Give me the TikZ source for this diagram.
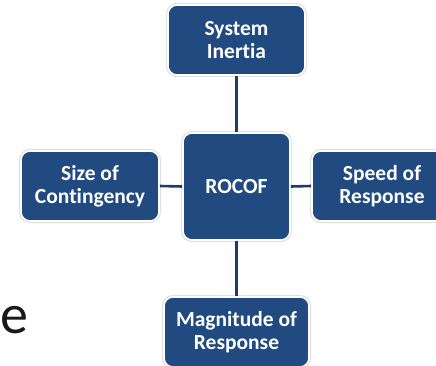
\documentclass[tikz,border=0pt]{standalone}
\usepackage{fontspec}
\setmainfont{Carlito}[Ligatures={NoCommon}]
\definecolor{boxblue}{RGB}{33,75,128}
\definecolor{linkblue}{RGB}{30,60,105}
\tikzset{
  factor/.style={
    preaction={draw=black!12, line width=4pt},
    fill=boxblue, draw=white, line width=1.6pt,
    rounded corners=9pt, text=white,
    font=\bfseries\fontsize{21.5}{23}\selectfont,
    align=center, inner sep=0pt},
  link/.style={draw=linkblue, line width=2.6pt}
}
\begin{document}
\begin{tikzpicture}[x=1pt,y=-1pt]
\useasboundingbox (0,0) rectangle (436,366);
\clip (0,0) rectangle (436,366);
% central quantity and the four factors around it
\node[factor, minimum width=107pt, minimum height=107pt] (rocof) at (236.5,186.5) {ROCOF};
\node[factor, minimum width=137pt, minimum height=70pt] (inertia) at (236.5,40) {System\\Inertia};
\node[factor, minimum width=138pt, minimum height=70pt] (size) at (90,186) {Size of\\Contingency};
\node[factor, minimum width=140pt, minimum height=70pt] (speed) at (382,186) {Speed of\\Response};
\node[factor, minimum width=145pt, minimum height=70pt] (magnitude) at (236.5,332) {Magnitude of\\Response};
% connectors
\draw[link] (inertia.south) -- (rocof.north);
\draw[link] (rocof.south) -- (magnitude.north);
\draw[link] (size.east) -- (rocof.west);
\draw[link] (rocof.east) -- (speed.west);
% stray letter at the left edge
\node[anchor=base west, inner sep=0pt, font=\fontsize{56}{60}\selectfont, text=black!90] (letter) at (0,333) {e};
\end{tikzpicture}
\end{document}
